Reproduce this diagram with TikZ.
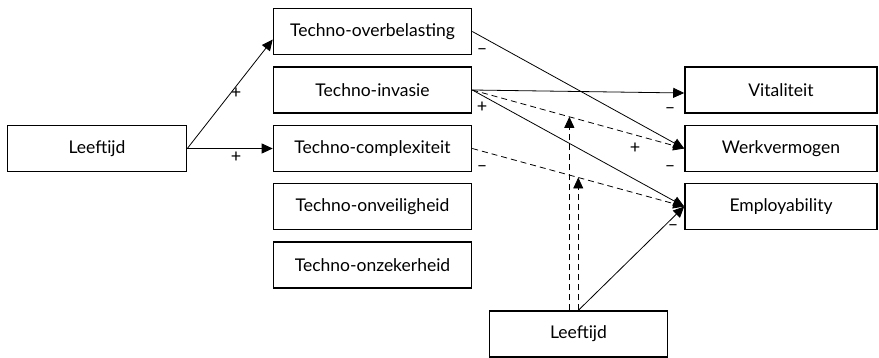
\documentclass[tikz,border=0pt]{standalone}
\usepackage{fontspec}
\setmainfont{Lato}
\usepackage{tikz}
\usetikzlibrary{calc,positioning,arrows.meta}

\begin{document}
\begin{tikzpicture}[x=1pt, y=-1pt,
  blok/.style={draw, line width=1.6pt, inner sep=0pt, minimum height=46pt, font=\fontsize{17.5}{20}\selectfont},
  tech/.style={blok, minimum width=198pt},
  uit/.style={blok, minimum width=192pt},
  pijl/.style={line width=0.8pt, -{Triangle[length=11pt, width=10pt]}},
  streep/.style={dash pattern=on 6pt off 4pt},
  sign/.style={inner sep=0pt, font=\fontsize{18}{18}\selectfont}]
\useasboundingbox (0,0) rectangle (879,358);
% predictor en technostress
\node[blok, minimum width=179pt] (lft) at (97,148.5) {Leeftijd};
\node[tech] (t1) at (372.5,31.5) {Techno-overbelasting};
\node[tech] (t2) at (372.5,90) {Techno-invasie};
\node[tech] (t3) at (372.5,148.5) {Techno-complexiteit};
\node[tech] (t4) at (372.5,206.5) {Techno-onveiligheid};
\node[tech] (t5) at (372.5,265) {Techno-onzekerheid};
% uitkomsten
\node[uit] (vit) at (781,90) {Vitaliteit};
\node[uit] (werk) at (781,148.5) {Werkvermogen};
\node[uit] (emp) at (781,206.5) {Employability};
% moderator
\node[blok, minimum width=178pt] (lft2) at (578.5,334) {Leeftijd};

\draw[pijl] (lft.east) -- ([yshift=-8pt]t1.west);
\draw[pijl] (lft.east) -- (t3.west);
\draw[pijl] (t1.east) -- (werk.west);
\draw[pijl] (t2.east) -- ([yshift=-3pt]vit.west);
\draw[pijl] (t2.east) -- (emp.west);
\draw[pijl, streep] (t2.east) -- coordinate[pos=0.458] (m1) (werk.west);
\draw[pijl, streep] (t3.east) -- coordinate[pos=0.5] (m2) (emp.west);
\draw[pijl] (lft2.north) -- (emp.west);
\draw[pijl, streep] (m1 |- lft2.north) -- (m1);
\draw[pijl, streep] (m2 |- lft2.north) -- (m2);

% tekens bij de paden
\node[sign] (p1) at (236,93) {+};
\node[sign] (p2) at (236,157) {+};
\node[sign] (n1) at (482,52) {–};
\node[sign] (p3) at (482,107) {+};
\node[sign] (n2) at (482,169) {–};
\node[sign] (n3) at (670,111) {–};
\node[sign] (p4) at (635,148) {+};
\node[sign] (n4) at (670,169) {–};
\node[sign] (n5) at (673,228) {–};
\end{tikzpicture}
\end{document}
